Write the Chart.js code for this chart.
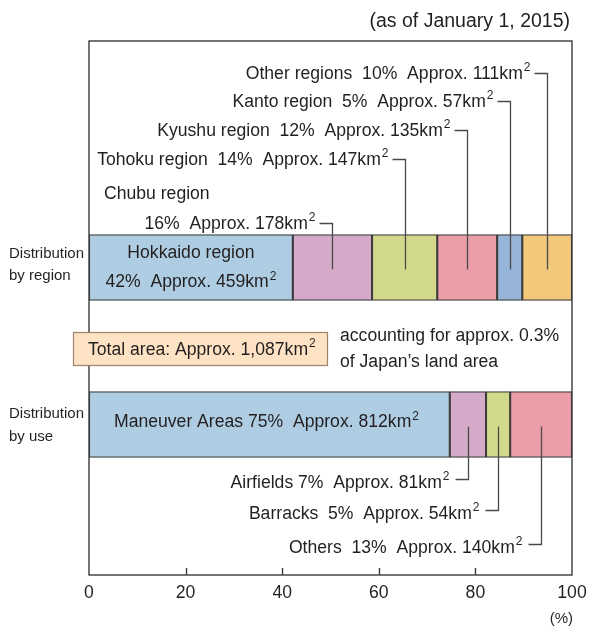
<!DOCTYPE html>
<html><head><meta charset="utf-8">
<script src="https://cdn.jsdelivr.net/npm/chart.js@4/dist/chart.umd.min.js"></script>
<style>html,body{margin:0;padding:0;background:#fff}#wrap{position:relative;width:589px;height:628px}</style>
</head><body><div id="wrap"><canvas id="c" width="589" height="628"></canvas></div>
<script>
// ---- data ----
const rowNames = [['Distribution','by region'],['Distribution','by use']];
const regionNames = ['Hokkaido region','Chubu region','Tohoku region','Kyushu region','Kanto region','Other regions'];
const regionPct = [42.2, 16.4, 13.5, 12.4, 5.2, 10.3];
const regionLabelPct = [42, 16, 14, 12, 5, 10];
const regionKm2 = [459, 178, 147, 135, 57, 111];
const useNames = ['Maneuver Areas','Airfields','Barracks','Others'];
const usePct = [74.7, 7.5, 5.0, 12.8];
const useLabelPct = [75, 7, 5, 13];
const useKm2 = [812, 81, 54, 140];
const xTicks = [0, 20, 40, 60, 80, 100];
const totalText = 'Total area: Approx. 1,087km';
const noteLines = ['accounting for approx. 0.3%', 'of Japan\u2019s land area'];
const titleText = '(as of January 1, 2015)';

// ---- styles ----
const colors = ['#aecde3','#d4aac8','#d3d98a','#eb9ea7','#97b5d9','#f2c97b'];
const FAM = '"Liberation Sans", Arial, sans-serif';
const TXT = '#231f20';
const FS = 17.6;
const F = s => s + 'px ' + FAM;
const ROW_Y = [226.5, 383.5]; // position of rows on the hidden y scale (0..534)

const datasets = colors.map((c, i) => {
  const data = [{x: regionPct[i], y: ROW_Y[0]}];
  if (i < usePct.length) data.push({x: usePct[i], y: ROW_Y[1]});
  return {data, backgroundColor: c, borderColor: '#3c3c3c', borderWidth: 1.4,
          borderSkipped: false, barThickness: 66};
});

function supWidth(ctx, main, size) {
  ctx.font = F(size); const w1 = ctx.measureText(main).width;
  ctx.font = F(Math.round(size * 0.66)); const w2 = ctx.measureText('2').width;
  return {w1, total: w1 + w2 + 1};
}
function drawSup(ctx, main, x, y, align, size) {
  size = size || FS;
  const m = supWidth(ctx, main, size);
  let sx = align === 'right' ? x - m.total : align === 'center' ? x - m.total / 2 : x;
  ctx.textAlign = 'left'; ctx.textBaseline = 'middle'; ctx.fillStyle = TXT;
  ctx.font = F(size); ctx.fillText(main, sx, y);
  ctx.font = F(Math.round(size * 0.66)); ctx.fillText('2', sx + m.w1 + 1, y - 6);
  return sx + m.total;
}
function plain(ctx, t, x, y, align, size) {
  ctx.font = F(size || FS); ctx.textAlign = align || 'left'; ctx.textBaseline = 'middle';
  ctx.fillStyle = TXT; ctx.fillText(t, x, y);
}

const overlay = {
  id: 'overlay',
  afterDraw(chart) {
    const ctx = chart.ctx, a = chart.chartArea, xs = chart.scales.x, ys = chart.scales.y;
    ctx.save();
    // frame
    ctx.strokeStyle = '#3a3a3a'; ctx.lineWidth = 1.4;
    ctx.strokeRect(a.left, a.top, a.right - a.left, a.bottom - a.top);
    // inward ticks + tick labels
    xTicks.forEach((v, k) => {
      const px = xs.getPixelForValue(v);
      if (k > 0 && k < xTicks.length - 1) {
        const p = Math.round(px) + 0.5;
        ctx.beginPath(); ctx.moveTo(p, a.bottom); ctx.lineTo(p, a.bottom - 7); ctx.stroke();
      }
      plain(ctx, String(v), px, a.bottom + 18, 'center', FS);
    });
    // title, unit
    plain(ctx, titleText, 570, 22, 'right', 19.5);
    plain(ctx, '(%)', 573, 619, 'right', 15);
    // row labels
    const rowPx = ROW_Y.map(v => ys.getPixelForValue(v));
    plain(ctx, rowNames[0][0], 9, rowPx[0] - 14, 'left', 15);
    plain(ctx, rowNames[0][1], 9, rowPx[0] + 8, 'left', 15);
    plain(ctx, rowNames[1][0], 9, rowPx[1] - 11, 'left', 15);
    plain(ctx, rowNames[1][1], 9, rowPx[1] + 12, 'left', 15);

    // segment centers
    const centers = (vals) => { let c = 0; return vals.map(v => { const m = c + v / 2; c += v; return xs.getPixelForValue(m); }); };
    const rc = centers(regionPct), uc = centers(usePct);

    // Hokkaido inside
    plain(ctx, regionNames[0], rc[0], rowPx[0] - 14, 'center', FS);
    drawSup(ctx, `${regionLabelPct[0]}%  Approx. ${regionKm2[0]}km`, rc[0], rowPx[0] + 15, 'center', FS);
    // Maneuver inside
    drawSup(ctx, `${useNames[0]} ${useLabelPct[0]}%  Approx. ${useKm2[0]}km`, 114, rowPx[1] - 2, 'left', FS);

    ctx.strokeStyle = '#4a4a4a'; ctx.lineWidth = 1.3;
    function connector(lineY, vx, barY) {
      ctx.beginPath();
      ctx.moveTo(vx - 13, lineY); ctx.lineTo(vx, lineY); ctx.lineTo(vx, barY); ctx.stroke();
    }
    // region callouts
    const regY = {5: 74, 4: 102, 3: 131, 2: 160, 1: 224};
    [5, 4, 3, 2, 1].forEach(i => {
      const vx = Math.round(rc[i]) + 0.5;
      const y = regY[i];
      const txt = i === 1 ? `${regionLabelPct[i]}%  Approx. ${regionKm2[i]}km`
                          : `${regionNames[i]}  ${regionLabelPct[i]}%  Approx. ${regionKm2[i]}km`;
      drawSup(ctx, txt, vx - 17, y, 'right', FS);
      connector(Math.round(y - 1) + 0.5, vx, rowPx[0] + 2);
    });
    plain(ctx, regionNames[1], 104, 194, 'left', FS);
    // use callouts
    const useY = {1: 483, 2: 514, 3: 548};
    [1, 2, 3].forEach(i => {
      const vx = Math.round(uc[i]) + 0.5;
      const y = useY[i];
      const sp = i === 1 ? ' ' : '  ';
      drawSup(ctx, `${useNames[i]}${sp}${useLabelPct[i]}%  Approx. ${useKm2[i]}km`, vx - 19, y, 'right', FS);
      connector(Math.round(y - 4) + 0.5, vx, rowPx[1] + 2);
    });

    // total area box
    ctx.fillStyle = '#fde3c3'; ctx.strokeStyle = '#9c8468'; ctx.lineWidth = 1.2;
    ctx.fillRect(73.5, 332.5, 254, 33); ctx.strokeRect(73.5, 332.5, 254, 33);
    drawSup(ctx, totalText, 88, 350, 'left', FS);
    plain(ctx, noteLines[0], 340, 336, 'left', FS);
    plain(ctx, noteLines[1], 340, 362, 'left', FS);
    ctx.restore();
  }
};

new Chart(document.getElementById('c'), {
  type: 'bar',
  data: {datasets},
  plugins: [overlay],
  options: {
    indexAxis: 'y', responsive: false, animation: false,
    layout: {padding: {left: 89, right: 17, top: 41, bottom: 53}},
    plugins: {legend: {display: false}, tooltip: {enabled: false}},
    scales: {
      x: {type: 'linear', stacked: true, min: 0, max: 100, display: false},
      y: {type: 'linear', stacked: true, reverse: true, offset: false, min: 0, max: 534, display: false}
    }
  }
});
</script></body></html>
